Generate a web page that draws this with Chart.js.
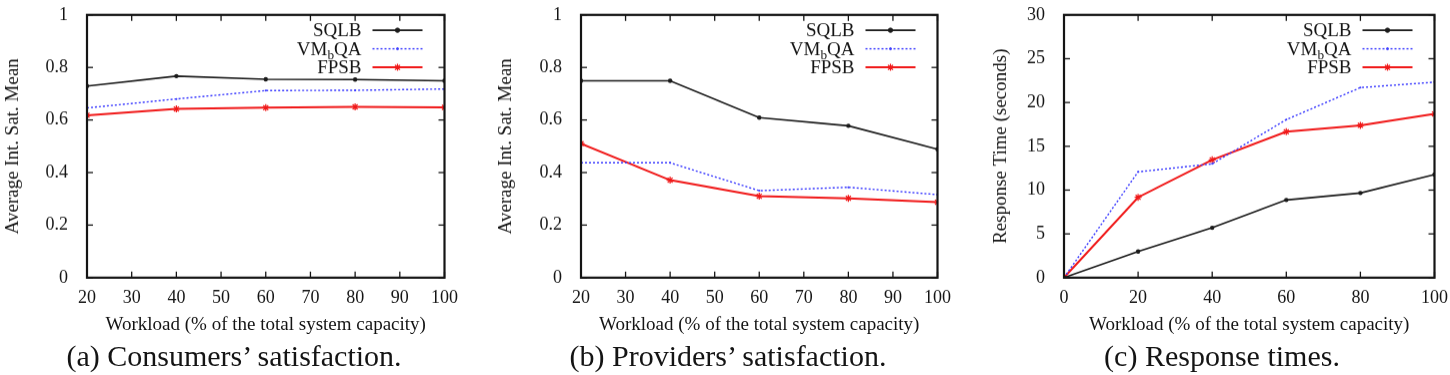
<!DOCTYPE html>
<html>
<head>
<meta charset="utf-8">
<script src="https://cdn.jsdelivr.net/npm/chart.js@4.4.0/dist/chart.umd.min.js"></script>
<style>
  body { margin: 0; background: #fff; width: 1450px; height: 375px; position: relative; overflow: hidden; }
  .panel { position: absolute; top: -6.8px; height: 346.8px; }
  .caption {
    position: absolute; top: 340px; width: 400px; text-align: center;
    font-family: 'Liberation Serif', 'Times New Roman', serif; font-size: 30px; line-height: 32px; color: #141414;
  }
</style>
</head>
<body>
<div class="panel" style="left:0; width:460px"><canvas id="consumers"></canvas></div>
<div class="panel" style="left:493px; width:460px"><canvas id="providers"></canvas></div>
<div class="panel" style="left:988px; width:462px"><canvas id="respTimes"></canvas></div>
<div class="caption" style="left:34px">(a) Consumers’ satisfaction.</div>
<div class="caption" style="left:528px">(b) Providers’ satisfaction.</div>
<div class="caption" style="left:1022px">(c) Response times.</div>

<script>
// ---- data ----
const workload = [20, 40, 60, 80, 100];
const workloadRT = [0, 20, 40, 60, 80, 100];

const consSQLB  = [0.729, 0.767, 0.755, 0.754, 0.749];
const consVMbQA = [0.646, 0.680, 0.712, 0.713, 0.718];
const consFPSB  = [0.618, 0.642, 0.647, 0.650, 0.648];

const provSQLB  = [0.749, 0.749, 0.609, 0.578, 0.489];
const provVMbQA = [0.437, 0.437, 0.331, 0.344, 0.316];
const provFPSB  = [0.510, 0.371, 0.310, 0.302, 0.287];

const rtSQLB  = [0, 2.98, 5.69, 8.87, 9.67, 11.77];
const rtVMbQA = [0, 12.08, 12.99, 18.04, 21.70, 22.32];
const rtFPSB  = [0, 9.17, 13.45, 16.66, 17.39, 18.69];

const seriesNames = ['SQLB', 'VM_bQA', 'FPSB'];
const xTitle = 'Workload (% of the total system capacity)';

const FONT = "'Liberation Serif', 'Times New Roman', serif";
const INK = '#141414';

// gnuplot style frame with inward ticks on all four sides, then the key
const gnuFrame = {
  id: 'gnuFrame',
  afterDraw(chart) {
    drawFrame(chart);
    drawKey(chart);
  }
};

function seg(ctx, x1, y1, x2, y2) {
  ctx.beginPath();
  ctx.moveTo(x1, y1);
  ctx.lineTo(x2, y2);
  ctx.stroke();
}

function drawFrame(chart) {
  const ctx = chart.ctx;
  const a = chart.chartArea;
  const x = chart.scales.x, y = chart.scales.y;
  const len = 6;
  ctx.save();
  ctx.setLineDash([]);
  ctx.strokeStyle = INK;
  ctx.lineWidth = 1.3;
  x.ticks.forEach(t => {
    const px = x.getPixelForValue(t.value);
    seg(ctx, px, a.bottom, px, a.bottom - len);
    seg(ctx, px, a.top, px, a.top + len);
  });
  y.ticks.forEach(t => {
    const py = y.getPixelForValue(t.value);
    seg(ctx, a.left, py, a.left + len, py);
    seg(ctx, a.right, py, a.right - len, py);
  });
  ctx.lineWidth = 2.2;
  ctx.strokeRect(a.left, a.top, a.right - a.left, a.bottom - a.top);
  ctx.restore();
}

function drawKey(chart) {
  const ctx = chart.ctx;
  const a = chart.chartArea;
  const fontSize = 19;
  ctx.save();
  chart.data.datasets.forEach((ds, i) => {
    const yRow = a.top + 15.3 + i * 18.5;
    const lineEnd = a.right - 22;
    const lineStart = lineEnd - 50;
    const textRight = lineStart - 11;

    // label, "_b" means subscript b
    const parts = [];
    ds.label.split(/(_.)/).forEach(p => {
      if (!p) return;
      if (p[0] === '_') parts.push({ text: p[1], sub: true });
      else parts.push({ text: p, sub: false });
    });
    let total = 0;
    parts.forEach(p => {
      ctx.font = (p.sub ? fontSize * 0.7 : fontSize) + 'px ' + FONT;
      p.w = ctx.measureText(p.text).width;
      total += p.w;
    });
    let xx = textRight - total;
    ctx.fillStyle = INK;
    ctx.textBaseline = 'middle';
    ctx.textAlign = 'left';
    parts.forEach(p => {
      ctx.font = (p.sub ? fontSize * 0.7 : fontSize) + 'px ' + FONT;
      ctx.fillText(p.text, xx, yRow + 1 + (p.sub ? 6 : 0));
      xx += p.w;
    });

    ctx.strokeStyle = ds.borderColor;
    ctx.lineWidth = ds.borderWidth;
    ctx.setLineDash(ds.borderDash || []);
    seg(ctx, lineStart, yRow, lineEnd, yRow);
    ctx.setLineDash([]);
    ctx.fillStyle = ds.borderColor;
    ctx.lineWidth = ds.pointBorderWidth || 1;
    Chart.helpers.drawPoint(ctx, {
      pointStyle: ds.pointStyle,
      radius: ds.pointRadius,
      borderWidth: ds.pointBorderWidth || 1,
      rotation: 0
    }, (lineStart + lineEnd) / 2, yRow);
  });
  ctx.restore();
}

function makeDatasets(xs, s1, s2, s3) {
  return [
    {
      label: seriesNames[0],
      data: xs.map((x, i) => ({ x, y: s1[i] })),
      borderColor: '#1a1a1a', backgroundColor: '#1a1a1a',
      borderWidth: 1.6, pointStyle: 'circle', pointRadius: 2.2, pointBorderWidth: 0
    },
    {
      label: seriesNames[1],
      data: xs.map((x, i) => ({ x, y: s2[i] })),
      borderColor: '#3a3aff', backgroundColor: '#3a3aff',
      borderWidth: 1.4, borderDash: [2, 2], pointStyle: 'circle', pointRadius: 1, pointBorderWidth: 0
    },
    {
      label: seriesNames[2],
      data: xs.map((x, i) => ({ x, y: s3[i] })),
      borderColor: '#f01818', backgroundColor: '#f01818',
      borderWidth: 2, pointStyle: 'star', pointRadius: 3.5, pointBorderWidth: 1.2
    }
  ];
}

const tickFont = { family: FONT, size: 18 };
const titleFont = { family: FONT, size: 19 };
const trimZero = v => String(Math.round(v * 10) / 10);

function makeChart(id, datasets, xRange, yRange, yTitle, yAxisWidth, padRight) {
  return new Chart(document.getElementById(id), {
    type: 'line',
    data: { datasets },
    options: {
      responsive: true,
      maintainAspectRatio: false,
      animation: false,
      events: [],
      layout: { padding: { top: 8, right: padRight, bottom: 0, left: 0 } },
      plugins: { legend: { display: false }, tooltip: { enabled: false } },
      elements: { line: { tension: 0 } },
      scales: {
        x: {
          type: 'linear',
          min: xRange[0], max: xRange[1],
          grid: { display: false },
          border: { display: false },
          ticks: { stepSize: xRange[2], color: INK, padding: 2, maxRotation: 0, font: tickFont },
          title: { display: true, text: xTitle, color: INK, padding: { top: 0, bottom: 4 }, font: titleFont },
          afterFit: s => { s.height = 63; }
        },
        y: {
          type: 'linear',
          min: yRange[0], max: yRange[1],
          grid: { display: false },
          border: { display: false },
          ticks: { stepSize: yRange[2], color: INK, padding: 11, font: tickFont, callback: trimZero },
          title: { display: true, text: yTitle, color: INK, padding: { top: 2, bottom: 0 }, font: titleFont },
          afterFit: s => { s.width = yAxisWidth; }
        }
      }
    },
    plugins: [gnuFrame]
  });
}

makeChart('consumers',
  makeDatasets(workload, consSQLB, consVMbQA, consFPSB),
  [20, 100, 10], [0, 1, 0.2],
  'Average Int. Sat. Mean', 87, 9);

makeChart('providers',
  makeDatasets(workload, provSQLB, provVMbQA, provFPSB),
  [20, 100, 10], [0, 1, 0.2],
  'Average Int. Sat. Mean', 88, 7);

makeChart('respTimes',
  makeDatasets(workloadRT, rtSQLB, rtVMbQA, rtFPSB),
  [0, 100, 20], [0, 30, 5],
  'Response Time (seconds)', 76, 15);
</script>
</body>
</html>
